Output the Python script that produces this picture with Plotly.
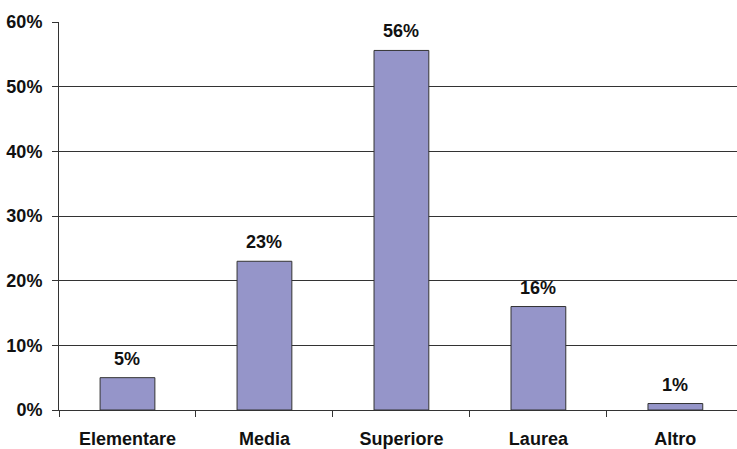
import plotly.graph_objects as go

categories = ["Elementare", "Media", "Superiore", "Laurea", "Altro"]
values = [0.05, 0.23, 0.556, 0.16, 0.01]
tick_vals = [0, 0.1, 0.2, 0.3, 0.4, 0.5, 0.6]
tick_text = ["0%", "10%", "20%", "30%", "40%", "50%", "60%"]

font_family = "Liberation Sans, Arial, sans-serif"

fig = go.Figure(go.Bar(
    x=categories, y=values,
    width=0.4,
    marker=dict(color="#9595C9", line=dict(color="#333333", width=1)),
    cliponaxis=False,
))

for c, v in zip(categories, values):
    fig.add_annotation(
        x=c, y=v, text=f"<b>{v:.0%}</b>", showarrow=False,
        yanchor="bottom", yshift=7,
        font=dict(family=font_family, size=18, color="#111111"),
    )

fig.update_layout(
    width=737, height=449,
    margin=dict(l=59, r=0, t=22, b=39),
    paper_bgcolor="white", plot_bgcolor="white",
    showlegend=False,
    font=dict(family=font_family, size=18, color="#111111"),
)
fig.update_xaxes(
    range=[-0.5, 4.45],
    showline=True, linecolor="#333333", linewidth=1,
    ticks="outside", tickson="boundaries", ticklen=6, tickcolor="#333333",
    ticklabelstandoff=12,
    tickfont=dict(family=font_family, size=18, color="#111111", weight="bold"),
    showgrid=False,
)
fig.update_yaxes(
    range=[0, 0.6],
    tickvals=tick_vals, ticktext=tick_text,
    showline=True, linecolor="#333333", linewidth=1,
    ticks="outside", ticklen=6, tickcolor="#333333",
    ticklabelstandoff=6,
    tickfont=dict(family=font_family, size=18, color="#111111", weight="bold"),
    showgrid=True, gridcolor="#333333", gridwidth=1,
    zeroline=False,
)

fig.write_html("out.html")
